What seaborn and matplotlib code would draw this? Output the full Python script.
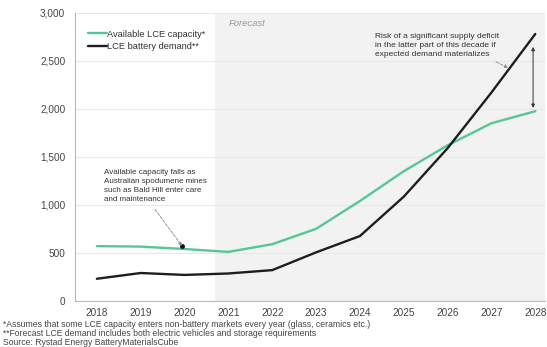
import numpy as np
import pandas as pd
import seaborn as sns
import matplotlib.pyplot as plt

years = [2018, 2019, 2020, 2021, 2022, 2023, 2024, 2025, 2026, 2027, 2028]
capacity = [570, 565, 540, 510, 590, 750, 1040, 1350, 1620, 1850, 1975]
demand = [230, 290, 270, 285, 320, 505, 675, 1085, 1590, 2170, 2780]
series_names = ["Available LCE capacity*", "LCE battery demand**"]
footnotes = [
    "*Assumes that some LCE capacity enters non-battery markets every year (glass, ceramics etc.)",
    "**Forecast LCE demand includes both electric vehicles and storage requirements",
    "Source: Rystad Energy BatteryMaterialsCube",
]

df = pd.DataFrame({
    "year": years * 2,
    "value": capacity + demand,
    "series": [series_names[0]] * len(years) + [series_names[1]] * len(years),
})

sns.set_style("white")
plt.rcParams["font.family"] = ["Liberation Sans", "DejaVu Sans"]

fig = plt.figure(figsize=(5.47, 3.47), dpi=100)
ax = fig.add_axes([0.137, 0.133, 0.860, 0.83])

# forecast shading
ax.axvspan(2020.7, 2028.4, color="#f2f2f2", zorder=0, lw=0)
ax.text(2021.0, 2885, "Forecast", fontsize=6.8, style="italic", color="#999999", va="center")

sns.lineplot(data=df, x="year", y="value", hue="series",
             palette={series_names[0]: "#55c795", series_names[1]: "#1e1e1e"},
             linewidth=1.7, ax=ax)

ax.set_xlim(2017.5, 2028.23)
ax.set_ylim(0, 3000)
ax.set_xticks(years)
ax.set_yticks(range(0, 3001, 500))
ax.set_yticklabels([f"{v:,}" for v in range(0, 3001, 500)])
ax.tick_params(labelsize=7.2, colors="#444444", length=0)
ax.tick_params(axis="y", pad=7)
ax.tick_params(axis="x", pad=5)
ax.set_xlabel("")
ax.set_ylabel("")
ax.grid(axis="y", color="#e8e8e8", lw=0.8)
for s in ["top", "right"]:
    ax.spines[s].set_visible(False)
ax.spines["left"].set_color("#bbbbbb")
ax.spines["bottom"].set_color("#bbbbbb")

leg = ax.legend(loc="upper left", bbox_to_anchor=(0.02, 0.955), frameon=False,
                fontsize=6.7, handlelength=2.0, handletextpad=0.0,
                borderaxespad=0.0, labelspacing=0.35)
for t in leg.get_texts():
    t.set_color("#333333")

# annotations
ax.annotate("Available capacity falls as\nAustralian spodumene mines\nsuch as Bald Hill enter care\nand maintenance",
            xy=(2019.94, 573), xytext=(2018.16, 1375), fontsize=5.8, color="#333333",
            va="top", linespacing=1.4,
            arrowprops=dict(arrowstyle="-|>", color="#888888", lw=0.6, ls="--",
                            shrinkA=3, shrinkB=0, mutation_scale=5,
                            relpos=(0.45, 0.0)))
ax.plot([2019.94], [573], marker="o", ms=2.5, color="#111111")

ax.annotate("Risk of a significant supply deficit\nin the latter part of this decade if\nexpected demand materializes",
            xy=(2027.38, 2427), xytext=(2024.35, 2790), fontsize=6.0, color="#333333",
            va="top", linespacing=1.45,
            arrowprops=dict(arrowstyle="-|>", color="#888888", lw=0.6, ls="--",
                            shrinkA=0, shrinkB=0, mutation_scale=5,
                            relpos=(0.92, 0.0)))
ax.annotate("", xy=(2027.95, 2010), xytext=(2027.95, 2645),
            arrowprops=dict(arrowstyle="<|-|>", color="#333333", lw=0.7,
                            shrinkA=0, shrinkB=0, mutation_scale=5))

fig.text(0.005, 0.078, "\n".join(footnotes), fontsize=6.2, color="#444444",
         va="top", linespacing=1.0)

fig.savefig("out.png", dpi=100)
